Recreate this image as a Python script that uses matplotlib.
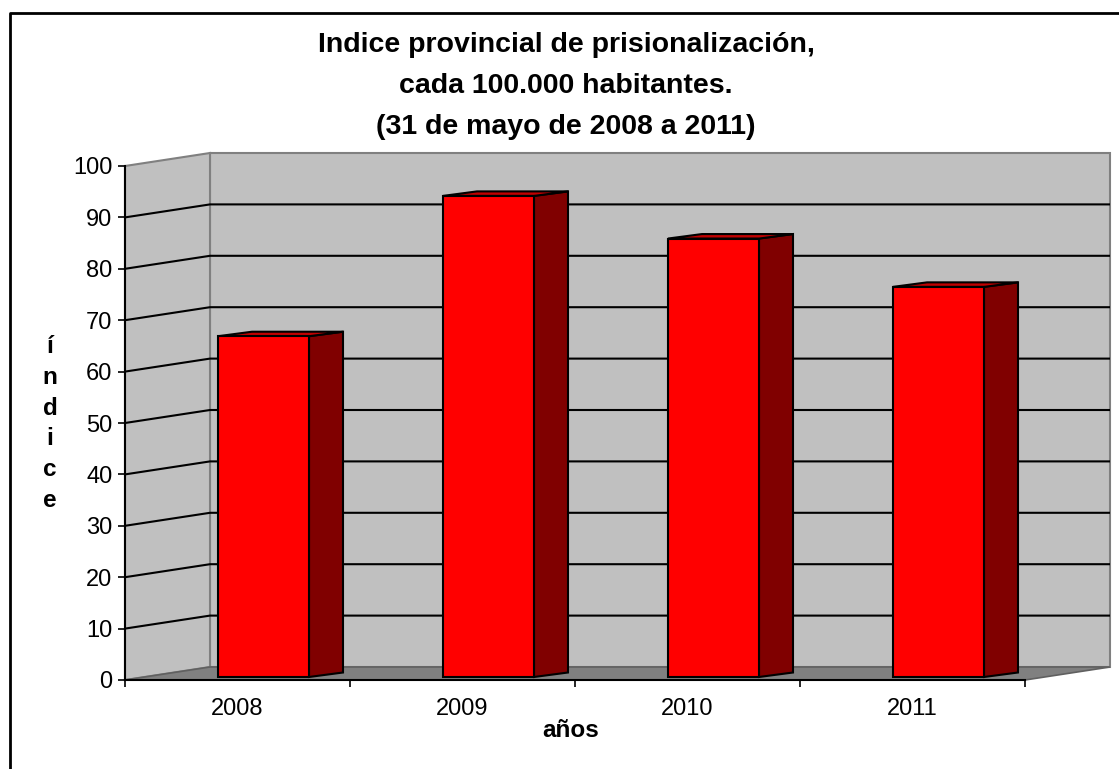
import matplotlib
matplotlib.use("Agg")
import matplotlib.pyplot as plt
from matplotlib.patches import Polygon
from matplotlib.lines import Line2D

plt.rcParams['font.family'] = ['Liberation Sans', 'DejaVu Sans']

# data
years = ["2008", "2009", "2010", "2011"]
indice = [66.3, 93.6, 85.3, 75.9]
yticks = list(range(0, 101, 10))
title_lines = ["Indice provincial de prisionalización,",
               "cada 100.000 habitantes.",
               "(31 de mayo de 2008 a 2011)"]

W, H = 1119, 769
fig = plt.figure(figsize=(W / 100, H / 100), dpi=100)
fig.patch.set_facecolor("white")

# plot area in pixels (front plane)
x0, x1, yb, yt = 125, 1025, 680, 166
ax = fig.add_axes([x0 / W, (H - yb) / H, (x1 - x0) / W, (yb - yt) / H])
ax.set_xlim(-0.5, 3.5)
ax.set_ylim(0, 100)
ax.patch.set_visible(False)

pxx = (x1 - x0) / 4.0      # px per category
pxy = (yb - yt) / 100.0    # px per unit

# 3d depth of the walls
dxw = 85 / pxx
dyw = 13 / pxy

# walls
back = Polygon([(-0.5 + dxw, dyw), (3.5 + dxw, dyw), (3.5 + dxw, 100 + dyw), (-0.5 + dxw, 100 + dyw)],
               closed=True, fc="#C0C0C0", ec="#808080", lw=1.5, clip_on=False, zorder=0)
side = Polygon([(-0.5, 0), (-0.5 + dxw, dyw), (-0.5 + dxw, 100 + dyw), (-0.5, 100)],
               closed=True, fc="#C0C0C0", ec="#808080", lw=1.5, clip_on=False, zorder=0)
floor = Polygon([(-0.5, 0), (3.5, 0), (3.5 + dxw, dyw), (-0.5 + dxw, dyw)],
                closed=True, fc="#808080", ec="#606060", lw=1.2, clip_on=False, zorder=1)
ax.add_patch(back)
ax.add_patch(side)
ax.add_patch(floor)

# gridlines
for v in yticks[1:-1]:
    ax.plot([-0.5, -0.5 + dxw, 3.5 + dxw], [v, v + dyw, v + dyw], color="black", lw=1.5,
            clip_on=False, zorder=1, solid_capstyle="butt")

# bars
boff = -19.5 / pxx
bw = 91 / pxx
base = 3 / pxy
ddx = 34 / pxx
ddy = 4.5 / pxy
for i, v in enumerate(indice):
    l = i + boff
    r = l + bw
    b = base
    t = base + v
    front = Polygon([(l, b), (r, b), (r, t), (l, t)], closed=True, fc="#FF0000", ec="black",
                    lw=1.5, clip_on=False, zorder=3, joinstyle="miter")
    sidef = Polygon([(r, b), (r + ddx, b + ddy), (r + ddx, t + ddy), (r, t)], closed=True,
                    fc="#800000", ec="black", lw=1.5, clip_on=False, zorder=3, joinstyle="miter")
    top = Polygon([(l, t), (r, t), (r + ddx, t + ddy), (l + ddx, t + ddy)], closed=True,
                  fc="#C00000", ec="black", lw=1.5, clip_on=False, zorder=3, joinstyle="miter")
    ax.add_patch(sidef)
    ax.add_patch(top)
    ax.add_patch(front)

# axes
for s in ["top", "right"]:
    ax.spines[s].set_visible(False)
for s in ["left", "bottom"]:
    ax.spines[s].set_linewidth(1.5)
    ax.spines[s].set_zorder(4)
ax.set_yticks(yticks)
ax.set_yticklabels([str(v) for v in yticks], fontsize=17)
ax.set_xticks([-0.5, 0.5, 1.5, 2.5, 3.5])
ax.set_xticklabels([])
ax.set_xticks(range(len(years)), minor=True)
ax.set_xticklabels(years, minor=True, fontsize=17)
ax.tick_params(axis="y", direction="out", length=5, width=1.2, pad=4)
ax.tick_params(axis="x", which="major", direction="out", length=5, width=1.2)
ax.tick_params(axis="x", which="minor", length=0, pad=13)

# titles and labels
for k, line in enumerate(title_lines):
    fig.text(566 / W, 1 - (52 + 41 * k) / H, line, ha="center", va="baseline",
             fontsize=20.5, fontweight="bold")
for k, ch in enumerate("índice"):
    fig.text(50 / W, 1 - (353 + 30.8 * k) / H, ch, ha="center", va="baseline",
             fontsize=17.5, fontweight="bold")
fig.text(571 / W, 1 - 737 / H, "años", ha="center", va="baseline", fontsize=17.5, fontweight="bold")

# outer border (only left and top visible)
fig.add_artist(Line2D([9.5 / W, 9.5 / W, 1.0], [0, 1 - 13 / H, 1 - 13 / H], color="black",
                      lw=2, transform=fig.transFigure))

fig.savefig("out.png", dpi=100)
